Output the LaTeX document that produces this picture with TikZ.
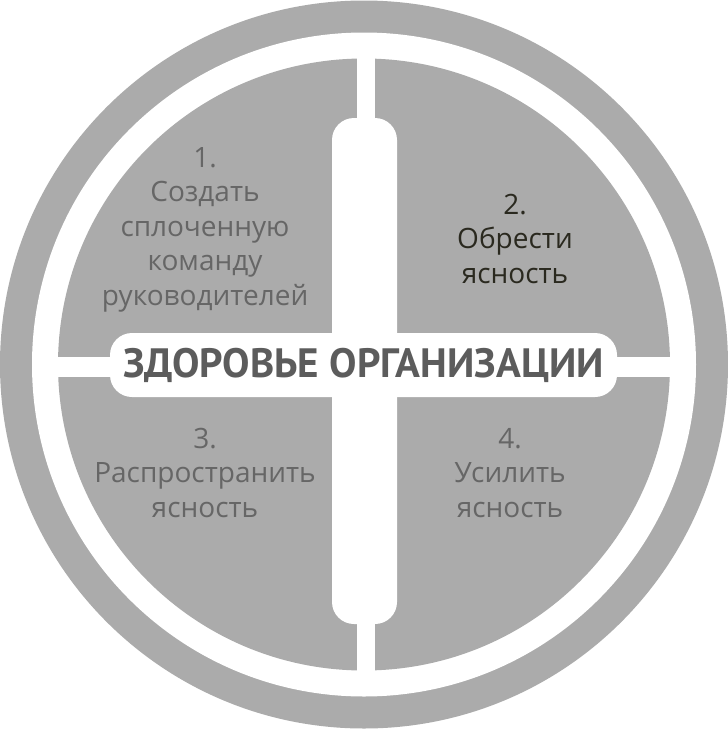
\documentclass[tikz,border=0pt]{standalone}
\usepackage{fontspec}
\setmainfont{Open Sans}
\newfontfamily\titlefont{PT Sans}
\definecolor{discgray}{HTML}{ABABAB}
\definecolor{labelgray}{HTML}{666666}
\definecolor{labeldark}{HTML}{2A291F}
\definecolor{titlegray}{HTML}{5C5C5C}
\begin{document}
\begin{tikzpicture}[x=1pt, y=-1pt,
    step label/.style={align=center, anchor=base, text=labelgray, font=\fontsize{28}{34.5}\selectfont},
    title pill/.style={fill=white, rounded corners=22pt, minimum width=507pt, minimum height=64pt,
        text=titlegray, font=\titlefont\fontsize{41}{44}\selectfont\bfseries}]
    \useasboundingbox (0,0) rectangle (728,729);
    \fill[white] (0,0) rectangle (728,729);

    % disc and ring
    \fill[discgray] (364,364.5) circle (364);
    \fill[white] (364,364.5) circle (332);
    \fill[discgray] (364,364.5) circle (306);

    % cross bars
    \fill[white] (357,34) rectangle (375,695);
    \fill[white] (34,357) rectangle (694,377);
    \fill[white, rounded corners=22pt] (332,118) rectangle (397,624);

    \node[title pill] (title) at (363.5,365) {ЗДОРОВЬЕ ОРГАНИЗАЦИИ};

    % quadrants (anchor is the last line's baseline)
    \node[step label] (q1) at (205,305) {1.\\Создать\\сплоченную\\команду\\руководителей};
    \node[step label, text=labeldark] (q2) at (515,283) {2.\\Обрести\\ясность};
    \node[step label] (q3) at (205,517) {3.\\Распространить\\ясность};
    \node[step label] (q4) at (510,517) {4.\\Усилить\\ясность};
\end{tikzpicture}
\end{document}
